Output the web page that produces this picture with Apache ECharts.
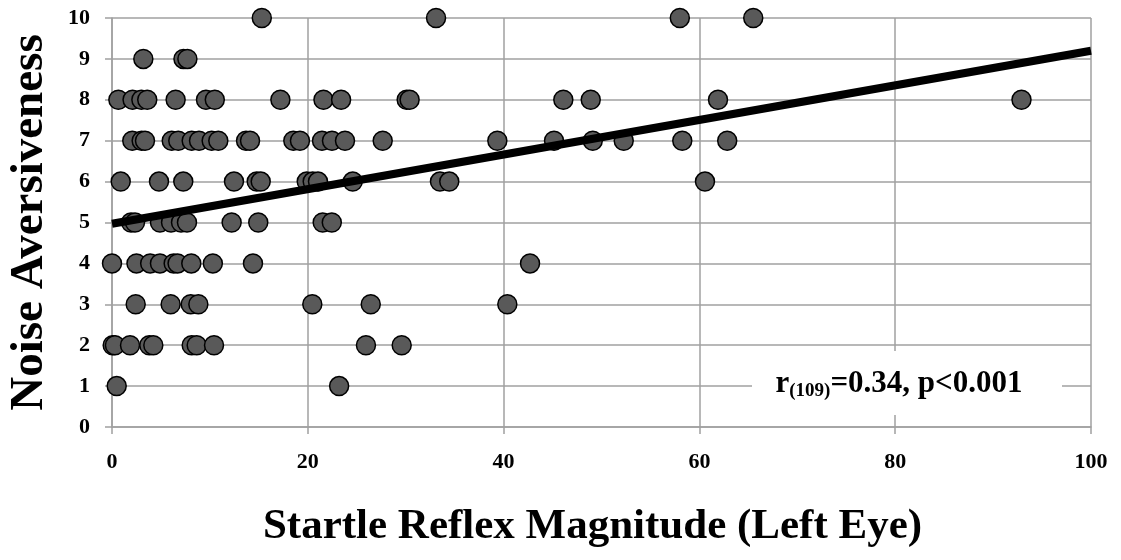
<!DOCTYPE html>
<html>
<head>
<meta charset="utf-8">
<script src="https://cdn.jsdelivr.net/npm/echarts@6/dist/echarts.min.js"></script>
<style>
html,body{margin:0;padding:0;background:#fff;}
#chart{width:1121px;height:560px;}
</style>
</head>
<body>
<div id="chart"></div>
<script>
// Startle reflex magnitude (x) for each noise aversiveness rating (y)
const startleAt10 = [15.3, 33.1, 58.0, 65.5];
const startleAt9 = [3.2, 7.3, 7.7];
const startleAt8 = [0.65, 2.1, 3.0, 3.6, 6.5, 9.6, 10.5, 17.2, 21.6, 23.4, 30.1, 30.4, 46.1, 48.9, 61.9, 92.9];
const startleAt7 = [2.07, 3.03, 3.37, 6.10, 6.77, 8.14, 8.89, 10.18, 10.86, 13.69, 14.10, 18.52, 19.20, 21.45, 22.47, 23.80, 27.65, 39.36, 45.15, 49.11, 52.27, 58.25, 62.84];
const startleAt6 = [0.89, 4.80, 7.28, 12.46, 14.78, 15.19, 19.89, 20.50, 21.04, 24.59, 33.50, 34.45, 60.57];
const startleAt5 = [1.94, 2.35, 4.90, 6.03, 7.05, 7.66, 12.22, 14.94, 21.52, 22.45];
const startleAt4 = [0, 2.5, 3.9, 4.9, 6.3, 6.7, 8.1, 10.3, 14.4, 42.7];
const startleAt3 = [2.42, 5.99, 8.04, 8.82, 20.46, 26.43, 40.38];
const startleAt2 = [0.07, 0.3, 1.84, 3.81, 4.22, 8.14, 8.65, 10.42, 25.94, 29.59];
const startleAt1 = [0.48, 23.2];
const ratingLevels = [10, 9, 8, 7, 6, 5, 4, 3, 2, 1];
const startleByLevel = [startleAt10, startleAt9, startleAt8, startleAt7, startleAt6, startleAt5, startleAt4, startleAt3, startleAt2, startleAt1];

// Regression line end points
const trendX = [0, 100];
const trendY = [4.97, 9.2];

const xTitle = 'Startle Reflex Magnitude (Left Eye)';
const yTitle = 'Noise Aversiveness';

const points = [];
ratingLevels.forEach((lvl, i) => {
  startleByLevel[i].forEach(x => points.push([x, lvl]));
});
const trendData = trendX.map((x, i) => [x, trendY[i]]);

const FONT = '"Liberation Serif", "Times New Roman", serif';
const gridColor = '#a0a0a0';

const chart = echarts.init(document.getElementById('chart'), null, {renderer: 'canvas'});
chart.setOption({
  animation: false,
  backgroundColor: '#fff',
  grid: {left: 112, right: 30, top: 18, bottom: 133, containLabel: false, outerBoundsMode: 'none'},
  xAxis: {
    type: 'value', min: 0, max: 100, interval: 20,
    name: xTitle, nameLocation: 'middle', nameGap: 78,
    nameTextStyle: {fontFamily: FONT, fontWeight: 'bold', fontSize: 43, color: '#000', padding: [0, 18, 0, 0]},
    axisLine: {show: true, lineStyle: {color: gridColor, width: 1.5}},
    axisTick: {show: true, length: 7, lineStyle: {color: gridColor, width: 1.5}},
    axisLabel: {fontFamily: FONT, fontWeight: 'bold', fontSize: 22, color: '#000', margin: 24},
    splitLine: {show: true, lineStyle: {color: gridColor, width: 1.5}}
  },
  yAxis: {
    type: 'value', min: 0, max: 10, interval: 1,
    name: yTitle, nameLocation: 'middle', nameGap: 59, nameRotate: 90,
    nameTextStyle: {fontFamily: FONT, fontWeight: 'bold', fontSize: 47, color: '#000'},
    axisLine: {show: true, lineStyle: {color: gridColor, width: 1.5}},
    axisTick: {show: true, length: 7, lineStyle: {color: gridColor, width: 1.5}},
    axisLabel: {fontFamily: FONT, fontWeight: 'bold', fontSize: 22, color: '#000', margin: 22},
    splitLine: {show: true, lineStyle: {color: gridColor, width: 1.5}}
  },
  series: [
    {
      type: 'scatter', data: points, symbol: 'circle', symbolSize: 19,
      itemStyle: {color: '#595959', borderColor: '#000', borderWidth: 1.5, opacity: 1},
      z: 3
    },
    {
      type: 'line', data: trendData, symbol: 'none', silent: true,
      lineStyle: {color: '#000', width: 8},
      z: 5
    }
  ],
  graphic: [
    {
      type: 'rect', shape: {x: 752, y: 351, width: 310, height: 64},
      style: {fill: '#fff'}, z: 10
    },
    {
      type: 'text', x: 899, y: 384, z: 11,
      style: {
        text: '{m|r}{s|(109)}{m|=0.34, p<0.001}',
        align: 'center', verticalAlign: 'middle',
        rich: {
          m: {fontFamily: FONT, fontWeight: 'bold', fontSize: 31, fill: '#000', color: '#000'},
          s: {fontFamily: FONT, fontWeight: 'bold', fontSize: 19, fill: '#000', color: '#000', padding: [14, 0, 0, 0]}
        }
      }
    }
  ]
});
</script>
</body>
</html>
